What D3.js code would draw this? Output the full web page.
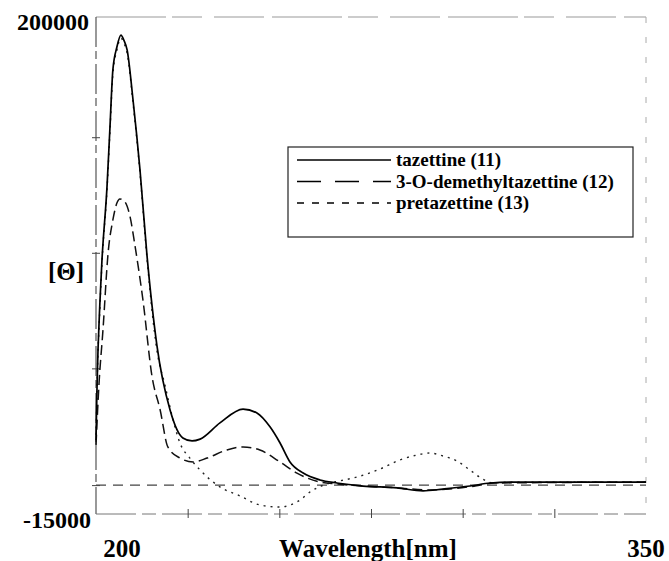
<!DOCTYPE html>
<html>
<head>
<meta charset="utf-8">
<script src="https://cdn.jsdelivr.net/npm/d3@7"></script>
<style>
  body { margin: 0; background: #fff; }
  text { font-family: "Liberation Serif", "Times New Roman", serif; font-weight: bold; fill: #000; }
</style>
</head>
<body>
<svg id="chart" width="669" height="561"></svg>
<script>
// values: [wavelength nm, [Θ]]
var tazettine = [
  [200.0, 17000], [200.3, 41700], [201.1, 77600], [201.6, 94000], [203.0, 126500],
  [203.8, 152000], [204.6, 177100], [205.7, 187000], [206.8, 192200], [207.6, 190000],
  [208.5, 185700], [210.1, 164100], [212.0, 133800], [213.9, 97000], [216.6, 58100],
  [220.2, 30000], [223.7, 17900], [226.2, 16600], [228.4, 17400], [233.8, 24400],
  [240.1, 30400], [243.9, 28700], [247.5, 22600], [250.2, 15700], [252.9, 7500],
  [256.5, 2700], [261.1, -300], [265.7, -1600], [272.8, -2900], [282.1, -3700],
  [289.2, -5000], [294.6, -4200], [302.0, -2900], [307.5, -1600], [312.9, -1200],
  [326.5, -1200], [350.0, -1200]
];
var demethyltazettine = [
  [200.0, 14900], [200.8, 40800], [201.9, 64600], [203.3, 97900], [204.6, 112200],
  [205.7, 119500], [206.5, 121300], [207.9, 120000], [209.3, 113500], [210.6, 101400],
  [212.8, 77600], [215.3, 44300], [217.5, 30000], [219.6, 14000], [222.9, 9200],
  [226.5, 7500], [230.3, 9200], [235.7, 12700], [240.1, 14000], [244.7, 12700],
  [250.2, 7500], [254.8, 2700], [261.1, -1200], [265.7, -2000], [272.8, -2900],
  [282.1, -3700], [291.1, -4600], [296.5, -4200], [303.4, -2900], [308.8, -1600],
  [350.0, -1200]
];
var pretazettine = [
  [200.0, 16200], [200.3, 40800], [201.1, 75400], [201.6, 92700], [203.0, 125200],
  [203.8, 150200], [204.6, 175300], [205.7, 185700], [206.8, 190900], [207.6, 188700],
  [208.5, 184400], [210.1, 162800], [212.0, 132500], [213.9, 95700], [216.6, 55900],
  [218.8, 40800], [220.7, 27800], [222.9, 15700], [225.6, 9200], [228.4, 4000],
  [233.8, -3300], [239.3, -7200], [244.7, -11100], [250.2, -12000], [254.8, -9800],
  [259.2, -4600], [263.0, -2000], [266.5, -700], [271.2, 1000], [277.5, 4500],
  [282.9, 8400], [287.5, 10500], [291.1, 11400], [294.6, 10100], [298.5, 7900],
  [302.0, 4000], [305.5, 100], [308.3, -1600], [312.9, -1200], [350.0, -1200]
];
var seriesNames = ["tazettine (11)", "3-O-demethyltazettine (12)", "pretazettine (13)"];
var xTicks = [225, 250, 275, 300, 325];
var yTicks = [148000, 98000, 48000, -2500];
var baselineValue = -2500;   // dashed reference line as it sits in the plot
var xDomain = [200, 350];
var yDomain = [-15000, 200000];
var yLabels = ["200000", "-15000"];

var svg = d3.select("#chart");
var plotLeft = 96, plotRight = 646, plotTop = 17, plotBottom = 514;

var x = d3.scaleLinear().domain(xDomain).range([plotLeft, plotRight]);
var y = d3.scaleLinear().domain(yDomain).range([plotBottom, plotTop]);

// frame, scanned look (broken grey lines)
var frame = svg.append("g").attr("fill", "none");
frame.append("line").attr("x1", plotLeft).attr("x2", plotRight).attr("y1", plotTop).attr("y2", plotTop)
  .attr("stroke", "#999").attr("stroke-dasharray", "70,6,30,12,50,8");
frame.append("line").attr("x1", plotLeft).attr("x2", plotLeft).attr("y1", plotTop).attr("y2", plotBottom)
  .attr("stroke", "#555").attr("stroke-width", 1.2).attr("stroke-dasharray", "30,4,8,5");
frame.append("line").attr("x1", plotRight).attr("x2", plotRight).attr("y1", plotTop).attr("y2", plotBottom)
  .attr("stroke", "#aaa").attr("stroke-dasharray", "6,14");
frame.append("line").attr("x1", plotLeft).attr("x2", plotRight).attr("y1", plotBottom).attr("y2", plotBottom)
  .attr("stroke", "#777").attr("stroke-dasharray", "40,6,14,6");

// tick marks through the library axes, labels off
var xAxis = svg.append("g")
  .attr("transform", "translate(0," + (plotBottom - 5) + ")")
  .call(d3.axisBottom(x).tickValues(xTicks).tickSize(9).tickFormat(""));
xAxis.select(".domain").remove();
xAxis.selectAll(".tick line").attr("stroke", "#444");

var yAxis = svg.append("g")
  .attr("transform", "translate(" + (plotLeft + 4) + ",0)")
  .call(d3.axisLeft(y).tickValues(yTicks).tickSize(8).tickFormat(""));
yAxis.select(".domain").remove();
yAxis.selectAll(".tick line").attr("stroke", "#444");

// dashed reference line
svg.append("line")
  .attr("x1", x(xDomain[0])).attr("x2", x(xDomain[1]))
  .attr("y1", y(baselineValue)).attr("y2", y(baselineValue))
  .attr("stroke", "#444").attr("stroke-width", 1.1)
  .attr("stroke-dasharray", "10,7");

var line = d3.line()
  .x(function (d) { return x(d[0]); })
  .y(function (d) { return y(d[1]); })
  .curve(d3.curveMonotoneX);

var styles = [
  { data: pretazettine, dash: "2,5", width: 1.4, color: "#222" },
  { data: demethyltazettine, dash: "10,5", width: 1.5, color: "#111" },
  { data: tazettine, dash: null, width: 1.7, color: "#000" }
];

svg.selectAll(".curve")
  .data(styles)
  .join("path")
  .attr("class", "curve")
  .attr("fill", "none")
  .attr("stroke", function (d) { return d.color; })
  .attr("stroke-width", function (d) { return d.width; })
  .attr("stroke-dasharray", function (d) { return d.dash; })
  .attr("d", function (d) { return line(d.data); });

// axis texts
svg.append("text").attr("x", 89).attr("y", 30).attr("text-anchor", "end")
  .style("font-size", "24px").text(yLabels[0]);
svg.append("text").attr("x", 91).attr("y", 528).attr("text-anchor", "end")
  .style("font-size", "24px").text(yLabels[1]);
svg.append("text").attr("x", 66).attr("y", 280).attr("text-anchor", "middle")
  .style("font-size", "25px").text("[Θ]");
svg.append("text").attr("x", x(xDomain[0]) + 26).attr("y", 557).attr("text-anchor", "middle")
  .style("font-size", "25px").text(xDomain[0]);
svg.append("text").attr("x", x(xDomain[1])).attr("y", 557).attr("text-anchor", "middle")
  .style("font-size", "25px").text(xDomain[1]);
svg.append("text").attr("x", 368).attr("y", 557).attr("text-anchor", "middle")
  .style("font-size", "25px").text("Wavelength[nm]");

// legend
var legend = svg.append("g");
legend.append("rect")
  .attr("x", 288).attr("y", 147).attr("width", 345).attr("height", 90)
  .attr("fill", "#fff").attr("stroke", "#222").attr("stroke-width", 1.2);
var legendDash = [null, "24,14", "7,8"];
var rows = legend.selectAll(".row")
  .data(seriesNames)
  .join("g")
  .attr("class", "row")
  .attr("transform", function (d, i) { return "translate(0," + (160 + i * 21.5) + ")"; });
rows.append("line")
  .attr("x1", 297).attr("x2", 391).attr("y1", 0).attr("y2", 0)
  .attr("stroke", "#000").attr("stroke-width", 1.4)
  .attr("stroke-dasharray", function (d, i) { return legendDash[i]; });
rows.append("text")
  .attr("x", 396).attr("y", 6)
  .style("font-size", "19px")
  .text(function (d) { return d; });
</script>
</body>
</html>
